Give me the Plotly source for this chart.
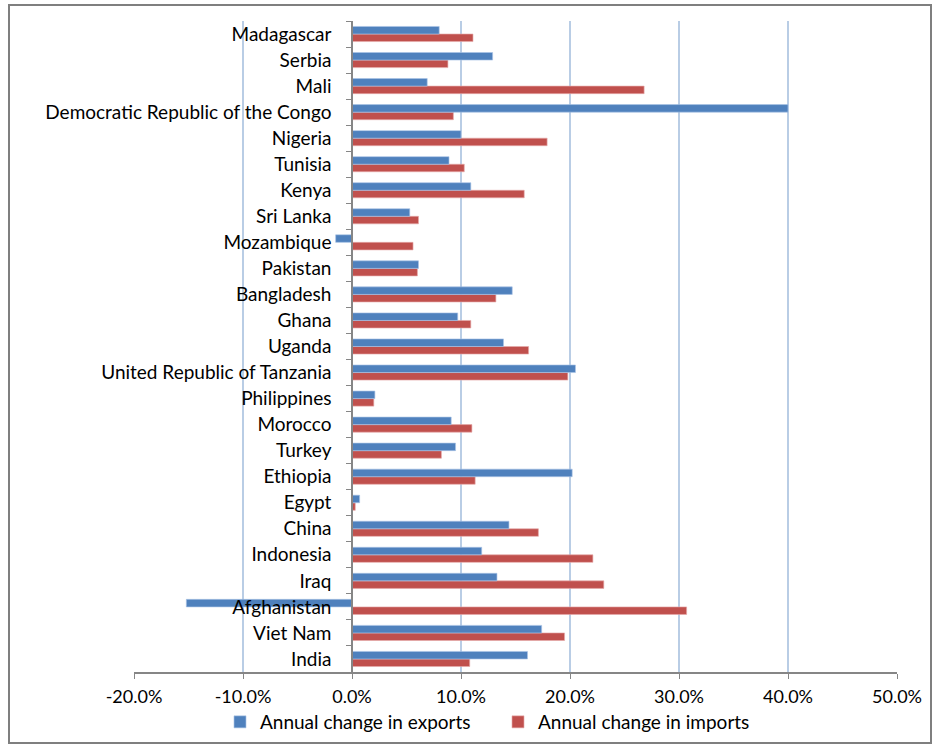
import plotly.graph_objects as go

# Countries listed bottom to top
countries = [
    "India", "Viet Nam", "Afghanistan", "Iraq", "Indonesia", "China", "Egypt",
    "Ethiopia", "Turkey", "Morocco", "Philippines", "United Republic of Tanzania",
    "Uganda", "Ghana", "Bangladesh", "Pakistan", "Mozambique", "Sri Lanka",
    "Kenya", "Tunisia", "Nigeria", "Democratic Republic of the Congo", "Mali",
    "Serbia", "Madagascar",
]
# Annual change, in percent
exports_pct = [16.1, 17.4, -15.2, 13.3, 11.9, 14.4, 0.7, 20.2, 9.5, 9.1, 2.1, 20.5,
               13.9, 9.7, 14.7, 6.1, -1.5, 5.3, 10.9, 8.9, 10.0, 40.0, 6.9, 12.9, 8.0]
imports_pct = [10.8, 19.5, 30.7, 23.1, 22.1, 17.1, 0.3, 11.3, 8.2, 11.0, 2.0, 19.8,
               16.2, 10.9, 13.2, 6.0, 5.6, 6.1, 15.8, 10.3, 17.9, 9.3, 26.8, 8.8, 11.1]

x_ticks = [-20, -10, 0, 10, 20, 30, 40, 50]
x_tick_text = [f"{v:.1f}%" for v in x_ticks]

BLUE = "#4F81BD"
RED = "#C0504D"
FONT = "Lato"
FS = 19

fig = go.Figure()
# imports first so exports sits on top within each group
fig.add_trace(go.Bar(
    y=countries, x=imports_pct, orientation="h", name="Annual change in imports",
    marker=dict(color=RED, line=dict(color="rgba(230,170,170,0.8)", width=0.8)),
    legendrank=2,
))
fig.add_trace(go.Bar(
    y=countries, x=exports_pct, orientation="h", name="Annual change in exports",
    marker=dict(color=BLUE, line=dict(color="rgba(170,195,230,0.8)", width=0.8)),
    legendrank=1,
))

L, R, T, B = 134, 36, 21, 72
W, H = 933, 744
pw, ph = W - L - R, H - T - B

fig.update_layout(
    width=W, height=H,
    margin=dict(l=L, r=R, t=T, b=B, autoexpand=False),
    paper_bgcolor="white", plot_bgcolor="white",
    barmode="group", bargap=0.42, bargroupgap=0,
    font=dict(family=FONT, size=FS, color="black"),
    showlegend=True,
    legend=dict(orientation="h", xref="container", yref="container",
                x=220 / W, xanchor="left", y=1 - 703 / H, yanchor="top",
                font=dict(family=FONT, size=FS), itemwidth=30,
                entrywidth=233, entrywidthmode="pixels",
                bgcolor="rgba(0,0,0,0)", tracegroupgap=0),
    xaxis=dict(
        range=[-20, 50], tickvals=x_ticks, ticktext=x_tick_text,
        showgrid=True, gridcolor="#B9CDE5", gridwidth=1.5,
        zeroline=False, showline=True, linecolor="#868686", linewidth=1.5,
        ticks="outside", ticklen=5, tickcolor="#868686",
        ticklabelstandoff=3, tickfont=dict(family=FONT, size=FS - 1),
    ),
    yaxis=dict(
        type="category", categoryorder="array", categoryarray=countries,
        anchor="free", position=(0 - (-20)) / 70,
        showline=True, linecolor="#868686", linewidth=1.5,
        ticks="outside", ticklen=5, tickcolor="#868686", tickson="boundaries",
        showgrid=False, ticklabelstandoff=16,
        tickfont=dict(family=FONT, size=FS),
    ),
    shapes=[dict(
        type="rect", xref="paper", yref="paper",
        x0=(9 - L) / pw, x1=(931 - L) / pw,
        y0=-(743 - (H - B)) / ph, y1=((H - B) - 5) / ph,
        line=dict(color="#7F7F7F", width=2), fillcolor="rgba(0,0,0,0)",
        layer="below",
    )],
)

fig.write_html("out.html")
